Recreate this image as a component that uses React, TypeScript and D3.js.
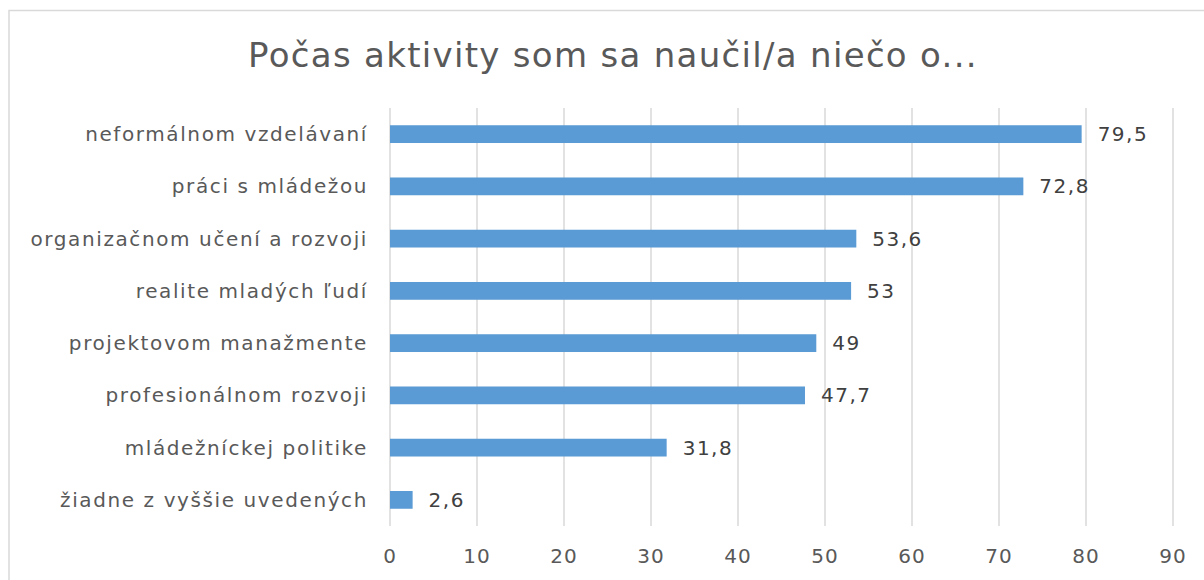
import React, { useEffect, useRef } from "react";
import * as d3 from "d3";

const categories = [
  "neformálnom vzdelávaní",
  "práci s mládežou",
  "organizačnom učení a rozvoji",
  "realite mladých ľudí",
  "projektovom manažmente",
  "profesionálnom rozvoji",
  "mládežníckej politike",
  "žiadne z vyššie uvedených",
];
const values = [79.5, 72.8, 53.6, 53, 49, 47.7, 31.8, 2.6];
const ticks = [0, 10, 20, 30, 40, 50, 60, 70, 80, 90];
const title = "Počas aktivity som sa naučil/a niečo o...";

const App = () => {
  const ref = useRef<SVGSVGElement>(null);

  useEffect(() => {
    const svg = d3.select(ref.current);
    svg.selectAll("*").remove();

    const W = 1204;
    const H = 580;
    const left = 390;
    const right = 1173;
    const top = 108;
    const bottom = 526;
    const font = "'DejaVu Sans', sans-serif";

    svg
      .append("rect")
      .attr("x", 9)
      .attr("y", 10.5)
      .attr("width", W + 20)
      .attr("height", H + 20)
      .attr("fill", "#fff")
      .attr("stroke", "#d9d9d9")
      .attr("stroke-width", 1.5);

    svg
      .append("text")
      .attr("x", 613)
      .attr("y", 67)
      .attr("text-anchor", "middle")
      .attr("font-family", font)
      .attr("font-size", 34)
      .attr("letter-spacing", 1.3)
      .attr("fill", "#595959")
      .text(title);

    const x = d3.scaleLinear().domain([0, 90]).range([left, right]);
    const y = d3
      .scaleBand()
      .domain(categories)
      .range([top, bottom])
      .paddingInner(0.66)
      .paddingOuter(0.33);

    svg
      .append("g")
      .selectAll("line")
      .data(ticks)
      .join("line")
      .attr("x1", (d) => x(d))
      .attr("x2", (d) => x(d))
      .attr("y1", top)
      .attr("y2", bottom)
      .attr("stroke", "#d9d9d9")
      .attr("stroke-width", 1.5);

    svg
      .append("g")
      .selectAll("text")
      .data(ticks)
      .join("text")
      .attr("x", (d) => x(d))
      .attr("y", 563)
      .attr("text-anchor", "middle")
      .attr("font-family", font)
      .attr("font-size", 20)
      .attr("letter-spacing", 1)
      .attr("fill", "#595959")
      .text((d) => d);

    svg
      .append("g")
      .selectAll("rect")
      .data(values)
      .join("rect")
      .attr("x", x(0))
      .attr("y", (_, i) => y(categories[i])!)
      .attr("width", (d) => x(d) - x(0))
      .attr("height", y.bandwidth())
      .attr("fill", "#5b9bd5");

    svg
      .append("g")
      .selectAll("text")
      .data(categories)
      .join("text")
      .attr("x", left - 22)
      .attr("y", (d) => y(d)! + y.bandwidth() / 2)
      .attr("dy", "0.35em")
      .attr("text-anchor", "end")
      .attr("font-family", font)
      .attr("font-size", 20)
      .attr("letter-spacing", 1.6)
      .attr("fill", "#595959")
      .text((d) => d);

    svg
      .append("g")
      .selectAll("text")
      .data(values)
      .join("text")
      .attr("x", (d) => x(d) + 16)
      .attr("y", (_, i) => y(categories[i])! + y.bandwidth() / 2)
      .attr("dy", "0.35em")
      .attr("font-family", font)
      .attr("font-size", 20)
      .attr("letter-spacing", 1.5)
      .attr("fill", "#404040")
      .text((d) => String(d).replace(".", ","));
  }, []);

  return (
    <svg
      ref={ref}
      width={1204}
      height={580}
      style={{ position: "fixed", top: 0, left: 0, display: "block" }}
    />
  );
};

export default App;
